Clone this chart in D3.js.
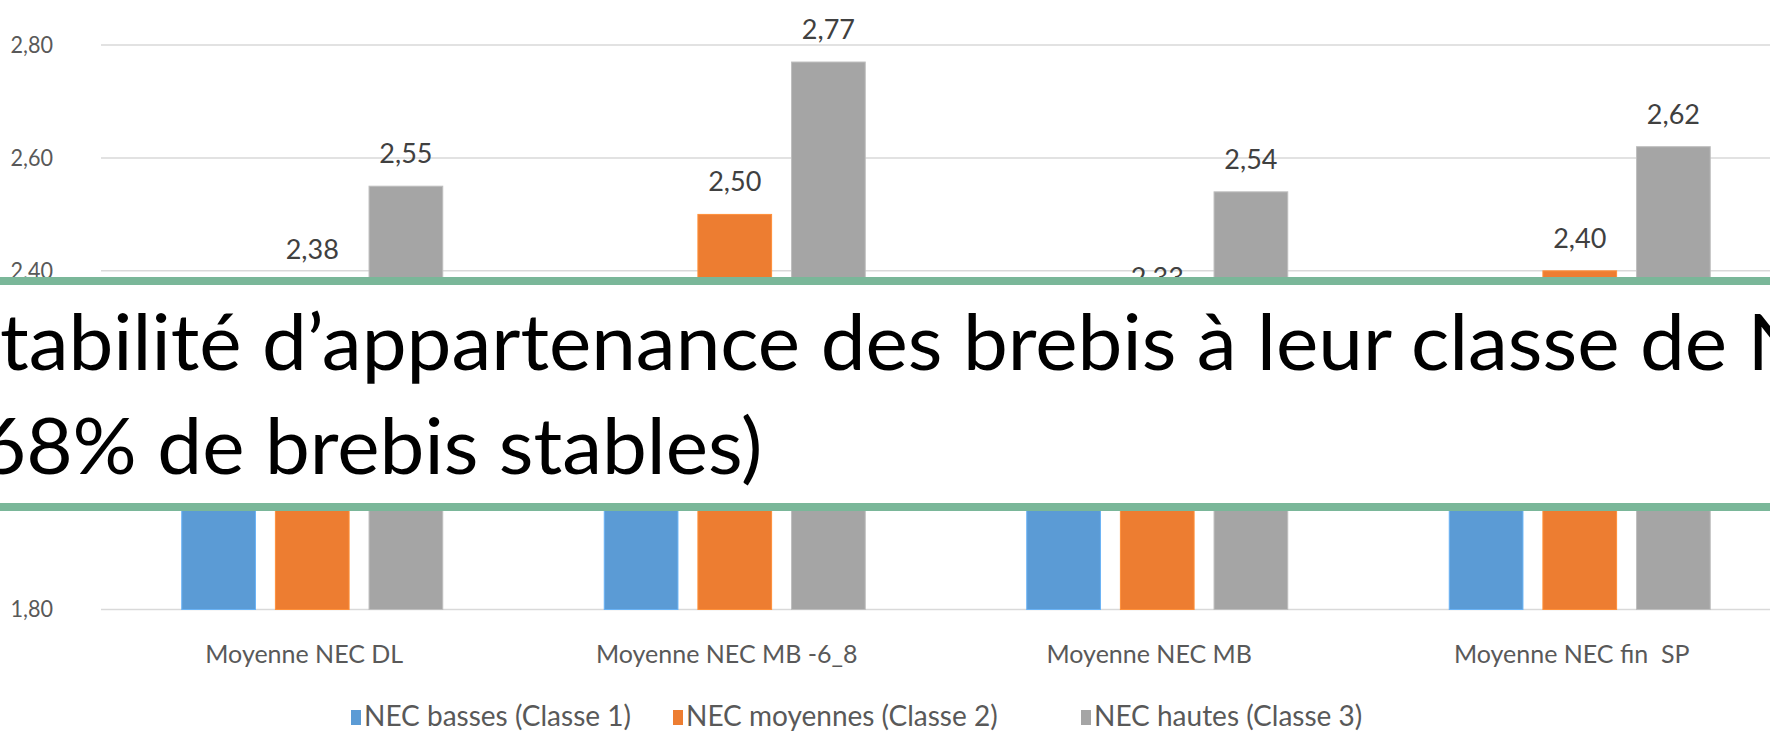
<!DOCTYPE html>
<html>
<head>
<meta charset="utf-8">
<script src="https://cdn.jsdelivr.net/npm/d3@7"></script>
<style>
  html, body { margin: 0; padding: 0; background: #fff; overflow: hidden; }
  svg { display: block; font-family: Lato, "Open Sans", sans-serif; }
</style>
</head>
<body>
<svg id="chart"></svg>
<script>
// chart data
const categories = ["Moyenne NEC DL", "Moyenne NEC MB -6_8", "Moyenne NEC MB", "Moyenne NEC fin  SP"];
const seriesNames = ["NEC basses (Classe 1)", "NEC moyennes (Classe 2)", "NEC hautes (Classe 3)"];
const classe1 = [2.20, 2.26, 2.12, 2.17]; // hidden behind the title band, estimated
const classe2 = [2.38, 2.50, 2.33, 2.40];
const classe3 = [2.55, 2.77, 2.54, 2.62];
const yTicks = [1.8, 2.0, 2.2, 2.4, 2.6, 2.8];
const titleLines = ["Stabilité d’appartenance des brebis à leur classe de NEC", "(68% de brebis stables)"];

const colors = ["#5B9BD5", "#ED7D31", "#A5A5A5"];
const values = [classe1, classe2, classe3];

const W = 1770, H = 732;
const svg = d3.select("#chart").attr("width", W).attr("height", H);

const fmt = v => d3.format(".2f")(v).replace(".", ",");

// scales
const x0 = d3.scaleBand().domain(categories).range([101, 1791]);
const groupW = 261;
const x1 = d3.scaleBand().domain(seriesNames).range([0, groupW]).paddingInner(0.213);
const y = d3.scaleLinear().domain([1.8, 2.8]).range([609.5, 45.1]);

// gridlines
svg.append("g").selectAll("line")
  .data(yTicks)
  .join("line")
  .attr("x1", x0.range()[0]).attr("x2", W)
  .attr("y1", d => y(d)).attr("y2", d => y(d))
  .attr("stroke", "#D9D9D9").attr("stroke-width", 1.5);

// y labels (slightly condensed like the original)
const ysx = 0.9;
svg.append("g").attr("transform", `scale(${ysx},1)`)
  .selectAll("text")
  .data(yTicks)
  .join("text")
  .attr("x", 53 / ysx)
  .attr("y", d => y(d) + 8)
  .attr("text-anchor", "end")
  .attr("fill", "#595959")
  .style("font-size", "24px")
  .text(d => fmt(d));

// bars
const rows = [];
categories.forEach((c, i) => seriesNames.forEach((s, j) => rows.push({ c, s, j, v: values[j][i] })));
const gx = c => x0(c) + (x0.bandwidth() - groupW) / 2;

svg.append("g").selectAll("rect")
  .data(rows)
  .join("rect")
  .attr("x", d => gx(d.c) + x1(d.s))
  .attr("y", d => y(d.v))
  .attr("width", x1.bandwidth())
  .attr("height", d => y(1.8) - y(d.v))
  .attr("fill", d => colors[d.j])
  .attr("stroke", d => d3.color(colors[d.j]).brighter(0.4))
  .attr("stroke-width", 1);

// data labels
svg.append("g").selectAll("text")
  .data(rows)
  .join("text")
  .attr("x", d => gx(d.c) + x1(d.s) + x1.bandwidth() / 2)
  .attr("y", d => y(d.v) - 23)
  .attr("text-anchor", "middle")
  .attr("fill", "#404040")
  .style("font-size", "27px")
  .text(d => fmt(d.v));

// category labels
svg.append("g").selectAll("text")
  .data(categories)
  .join("text")
  .attr("x", d => x0(d) + x0.bandwidth() / 2 - 8)
  .attr("y", 663)
  .attr("text-anchor", "middle")
  .attr("fill", "#595959")
  .style("font-size", "25px")
  .style("white-space", "pre")
  .text(d => d);

// legend (item positions follow the original layout)
const legendX = [351, 673, 1081];
const legend = svg.append("g").selectAll("g")
  .data(seriesNames)
  .join("g")
  .attr("transform", (d, j) => `translate(${legendX[j]},0)`);
legend.append("rect")
  .attr("x", 0).attr("y", 710).attr("width", 10).attr("height", 15)
  .attr("fill", (d, j) => colors[j]);
legend.append("text")
  .attr("x", 13).attr("y", 726)
  .attr("fill", "#595959")
  .style("font-size", "28px")
  .text(d => d);

// title band over the chart
const band = svg.append("g");
band.append("rect").attr("x", 0).attr("y", 277).attr("width", W).attr("height", 234).attr("fill", "#fff");
band.append("rect").attr("x", 0).attr("y", 277).attr("width", W).attr("height", 8).attr("fill", "#7AB799");
band.append("rect").attr("x", 0).attr("y", 503).attr("width", W).attr("height", 8).attr("fill", "#7AB799");

const title = band.append("g");
const t1 = title.append("text").attr("y", 370).style("font-size", "77px").attr("fill", "#000").text(titleLines[0]);
const t2 = title.append("text").attr("y", 474).style("font-size", "77px").attr("fill", "#000").text(titleLines[1]);
// stretch so that "tabilité" starts at the left edge and "N" lands near x=1748
const wS = t1.node().getSubStringLength(0, 1);
const wToN = t1.node().getSubStringLength(0, titleLines[0].indexOf("NEC"));
const sx = 1748 / (wToN - wS);
title.attr("transform", `translate(${-wS * sx},0) scale(${sx},1)`);
</script>
</body>
</html>
